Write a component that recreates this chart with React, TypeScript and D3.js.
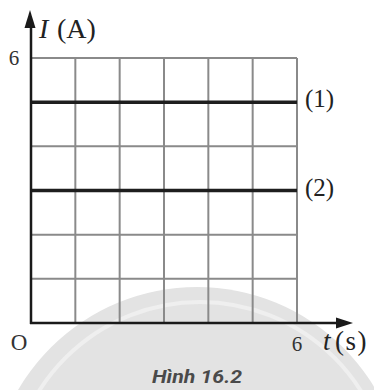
import React from "react";
import * as d3 from "d3";

const W = 374;
const H = 390;

const xTicks = [0, 1, 2, 3, 4, 5, 6];
const yTicks = [0, 1, 2, 3, 4, 5, 6];
const seriesNames = ["(1)", "(2)"];
const seriesValues = [5, 3];
const tStart = 0;
const tEnd = 6;
const xAxisLabelMax = "6";
const yAxisLabelMax = "6";
const originLabel = "O";
const caption = "Hình 16.2";

export default function App() {
  const x = d3.scaleLinear().domain([0, 6]).range([31, 297]);
  const y = d3.scaleLinear().domain([0, 6]).range([323, 58]);
  const line = d3
    .line<[number, number]>()
    .x((d) => x(d[0]))
    .y((d) => y(d[1]));
  const serif = "'Liberation Serif', 'DejaVu Serif', serif";

  return (
    <svg
      width={W}
      height={H}
      viewBox={`0 0 ${W} ${H}`}
      style={{ position: "absolute", left: 0, top: 0, background: "#fff" }}
    >
      {/* watermark */}
      <circle cx={197} cy={494} r={207} fill="#e3e3e3" />
      <circle cx={200} cy={492} r={190} fill="none" stroke="#efefef" strokeWidth={4} />

      {/* grid */}
      {xTicks.slice(1).map((t) => (
        <line key={"vx" + t} x1={x(t)} x2={x(t)} y1={y(6)} y2={y(0)} stroke="#8a8a8a" strokeWidth={2} />
      ))}
      {yTicks.slice(1).map((t) => (
        <line key={"hy" + t} x1={x(0)} x2={x(6)} y1={y(t)} y2={y(t)} stroke="#8a8a8a" strokeWidth={2} />
      ))}

      {/* series */}
      {seriesValues.map((v, i) => (
        <g key={seriesNames[i]}>
          <path
            d={line([
              [tStart, v],
              [tEnd, v],
            ]) || ""}
            stroke="#1e1e1e"
            strokeWidth={3.5}
            fill="none"
          />
          <text
            x={x(tEnd) + 8}
            y={y(v) + 5}
            fontFamily={serif}
            fontSize={25}
            fill="#222"
          >
            {seriesNames[i]}
          </text>
        </g>
      ))}

      {/* axes */}
      <line x1={x(0)} x2={x(0)} y1={y(0) + 1} y2={24} stroke="#1a1a1a" strokeWidth={2.5} />
      <line x1={x(0) - 1} x2={340} y1={y(0)} y2={y(0)} stroke="#1a1a1a" strokeWidth={2.5} />
      <path d={`M${x(0) - 1},10 L${x(0) - 6.5},28 L${x(0) + 4.5},28 Z`} fill="#1a1a1a" />
      <path d={`M353,${y(0)} L336,${y(0) - 5.5} L336,${y(0) + 5.5} Z`} fill="#1a1a1a" />

      {/* axis labels */}
      <text y={38} fontFamily={serif} fontSize={28} fill="#222">
        <tspan x={39} fontStyle="italic">I</tspan>
        <tspan x={57}>(A)</tspan>
      </text>
      <text x={14} y={65} fontFamily={serif} fontSize={21} fill="#333" textAnchor="middle">
        {yAxisLabelMax}
      </text>
      <text x={19} y={350} fontFamily={serif} fontSize={23} fill="#333" textAnchor="middle">
        {originLabel}
      </text>
      <text x={x(6)} y={351} fontFamily={serif} fontSize={21} fill="#333" textAnchor="middle">
        {xAxisLabelMax}
      </text>
      <text y={350} fontFamily={serif} fontSize={27} fill="#222">
        <tspan x={323} fontStyle="italic">t</tspan>
        <tspan x={335} letterSpacing={1.5}>(s)</tspan>
      </text>

      {/* caption */}
      <text
        x={197}
        y={383}
        fontFamily="Roboto, 'Open Sans', sans-serif"
        fontWeight={700}
        fontStyle="italic"
        fontSize={18}
        fill="#4a4a4a"
        textAnchor="middle"
        textLength={90}
        lengthAdjust="spacingAndGlyphs"
      >
        {caption}
      </text>
    </svg>
  );
}
